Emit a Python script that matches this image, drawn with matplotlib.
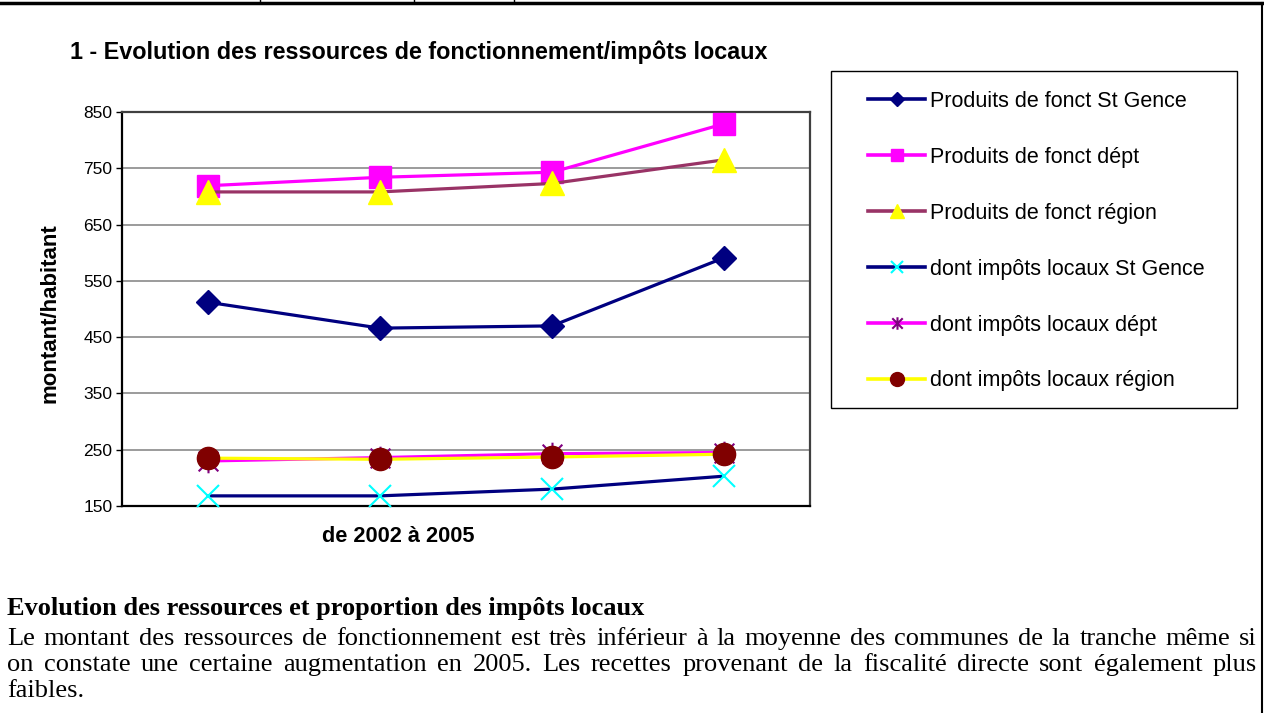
import matplotlib.pyplot as plt
from matplotlib.lines import Line2D
from matplotlib.patches import Rectangle
from matplotlib.path import Path

# Data (montant/habitant, 2002 -> 2005)
years = [2002, 2003, 2004, 2005]
prod_st_gence = [512, 466, 470, 591]
prod_dept = [719, 734, 743, 829]
prod_region = [708, 708, 723, 765]
impots_st_gence = [168, 168, 180, 203]
impots_dept = [230, 236, 243, 245]
impots_region = [235, 233, 237, 242]

labels = [
    'Produits de fonct St Gence',
    'Produits de fonct dépt',
    'Produits de fonct région',
    'dont impôts locaux St Gence',
    'dont impôts locaux dépt',
    'dont impôts locaux région',
]
yticks = [150, 250, 350, 450, 550, 650, 750, 850]

title = '1 - Evolution des ressources de fonctionnement/impôts locaux'
heading = 'Evolution des ressources et proportion des impôts locaux'
para_lines = [
    'Le montant des ressources de fonctionnement est très inférieur à la moyenne des communes de la tranche même si',
    'on constate une certaine augmentation en 2005. Les recettes provenant de la fiscalité directe sont également plus',
    'faibles.',
]

sans = 'Liberation Sans'
serif = 'Liberation Serif'

fig = plt.figure(figsize=(12.64, 7.13), dpi=100)
W, H = 1264, 713


def fx(px):
    return px / W


def fy(py):
    return 1 - py / H


# Excel-style asterisk: an x with a vertical bar
asterisk = Path(
    [(-1, -1), (1, 1), (-1, 1), (1, -1), (0, -1.2), (0, 1.2)],
    [Path.MOVETO, Path.LINETO, Path.MOVETO, Path.LINETO, Path.MOVETO, Path.LINETO],
)

ax = fig.add_axes([fx(122), fy(506), fx(810) - fx(122), fy(112) - fy(506)])
xs = list(range(1, len(years) + 1))

# (values, line colour, marker, marker face, marker edge, marker size, legend marker size)
series = [
    (prod_st_gence, '#000080', 'D', '#000080', '#000080', 12.5, 7),
    (prod_dept, '#FF00FF', 's', '#FF00FF', '#FF00FF', 16, 9),
    (prod_region, '#993366', '^', '#FFFF00', '#FFFF00', 17, 10),
    (impots_st_gence, '#000080', 'x', '#00FFFF', '#00FFFF', 16, 8),
    (impots_dept, '#FF00FF', asterisk, '#800080', '#800080', 17, 9),
    (impots_region, '#FFFF00', 'o', '#800000', '#800000', 16, 10),
]

handles = []
for vals, col, mk, mfc, mec, ms, lms in series:
    thin = isinstance(mk, Path) or mk == 'x'
    mew = 1.5 if thin else 1
    ax.plot(xs, vals, color=col, lw=2.3, marker=mk, markersize=ms,
            markerfacecolor=mfc, markeredgecolor=mec, markeredgewidth=mew,
            clip_on=False, zorder=3)
    handles.append(Line2D([0], [0], color=col, lw=2.6, marker=mk, markersize=lms,
                          markerfacecolor=mfc, markeredgecolor=mec,
                          markeredgewidth=mew))

ax.set_xlim(0.5, len(years) + 0.5)
ax.set_ylim(150, 850)
ax.set_yticks(yticks)
ax.set_xticks([])
ax.grid(axis='y', color='#808080', lw=1.1)
ax.set_axisbelow(True)
for side in ['left', 'bottom']:
    ax.spines[side].set_linewidth(1.6)
    ax.spines[side].set_color('black')
for side in ['top', 'right']:
    ax.spines[side].set_linewidth(1.6)
    ax.spines[side].set_color('#404040')
ax.tick_params(axis='y', length=4, width=1, labelsize=12.5, pad=3)
for t in ax.get_yticklabels():
    t.set_fontfamily(sans)

fig.text(fx(50), fy(313), 'montant/habitant', fontsize=16, fontweight='bold',
         family=sans, rotation=90, ha='center', va='center')
fig.text(fx(398), fy(536), 'de 2002 à 2005', fontsize=15.7, fontweight='bold',
         family=sans, ha='center', va='center')
fig.text(fx(70), fy(52), title, fontsize=16.8, fontweight='bold',
         family=sans, ha='left', va='center')

# legend box
fig.patches.append(Rectangle((fx(831), fy(408)), fx(1237) - fx(831), fy(71) - fy(408),
                             transform=fig.transFigure, fill=False,
                             edgecolor='black', lw=1))
fig.legend(handles, labels, loc='upper left', bbox_to_anchor=(fx(868), fy(91)),
           frameon=False, prop={'family': sans, 'size': 15.5},
           handlelength=2.65, handletextpad=0.23, labelspacing=1.62,
           borderpad=0, borderaxespad=0)

# page border lines
fig.add_artist(Line2D([0, 1], [fy(3), fy(3)], color='black', lw=2.5))
fig.add_artist(Line2D([fx(1262), fx(1262)], [0, fy(3)], color='black', lw=1.5))
for px in [260, 414, 514]:
    fig.add_artist(Line2D([fx(px), fx(px)], [fy(0), fy(3)], color='black', lw=1))

# text below the chart, justified like the original document
fig.text(fx(7), fy(609), heading, fontsize=19, fontweight='bold',
         family=serif, ha='left', va='center')

renderer = fig.canvas.get_renderer()
left_px, right_px = 7, 1257
line_y = [639, 665, 691]
for i, line in enumerate(para_lines):
    if i == len(para_lines) - 1:
        fig.text(fx(left_px), fy(line_y[i]), line, fontsize=19, family=serif,
                 ha='left', va='center')
        continue
    words = line.split(' ')
    arts = [fig.text(0, fy(line_y[i]), w, fontsize=19, family=serif,
                     ha='left', va='center') for w in words]
    widths = [a.get_window_extent(renderer).width for a in arts]
    gap = (right_px - left_px - sum(widths)) / (len(words) - 1)
    x = left_px
    for a, w in zip(arts, widths):
        a.set_x(fx(x))
        x += w + gap

fig.savefig('out.png', dpi=100)
